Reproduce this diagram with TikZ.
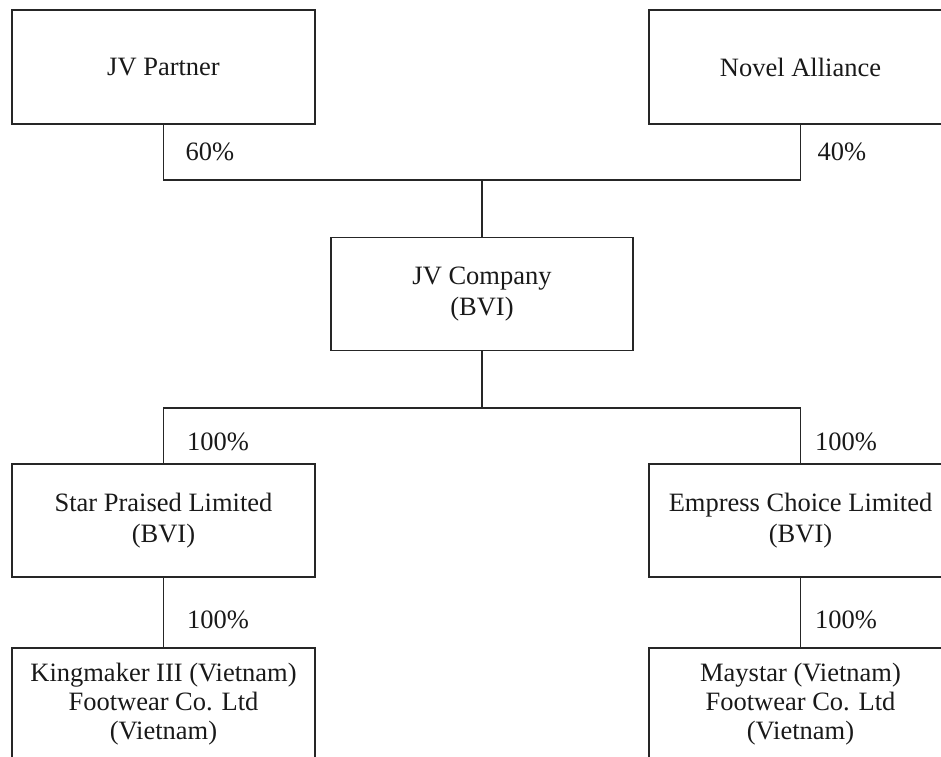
\documentclass[tikz,border=0pt]{standalone}
\usepackage{fontspec}
\setmainfont{Liberation Serif}
\begin{document}
\begin{tikzpicture}[x=1pt,y=-1pt,
  entity/.style={draw=black!85, line width=1.1pt, rectangle, minimum width=303pt, minimum height=113pt,
     align=center, inner sep=0pt, font=\fontsize{26.5}{31}\selectfont, text=black!90},
  tight/.style={font=\fontsize{26.5}{29}\selectfont},
  link/.style={draw=black!85, line width=1.1pt},
  pct/.style={font=\fontsize{26.5}{29}\selectfont, text=black!90, inner sep=0pt}]
\useasboundingbox (0,0) rectangle (941,756);
\clip (0,0) rectangle (941,756);
\node[entity, minimum height=114pt] (jvp) at (163.5,67) {JV Partner};
\node[entity, minimum height=114pt] (na) at (800.5,67) {Novel Alliance};
\node[entity, minimum width=302pt] (jvc) at (482,294) {JV Company\\(BVI)};
\node[entity] (sp) at (163.5,520.5) {Star Praised Limited\\(BVI)};
\node[entity] (ec) at (800.5,520.5) {Empress Choice Limited\\(BVI)};
\node[entity, tight] (km) at (163.5,704.5) {Kingmaker III (Vietnam)\\Footwear Co. Ltd\\(Vietnam)};
\node[entity, tight] (ms) at (800.5,704.5) {Maystar (Vietnam)\\Footwear Co. Ltd\\(Vietnam)};
\coordinate (top) at (482,180);
\coordinate (mid) at (482,408);
\draw[link] (jvp.south) |- (top) -| (na.south);
\draw[link] (top) -- (jvc.north);
\draw[link] (jvc.south) -- (mid);
\draw[link] (sp.north) |- (mid) -| (ec.north);
\draw[link] (sp.south) -- (km.north);
\draw[link] (ec.south) -- (ms.north);
\node[pct] (p60) at (210,152) {60\%};
\node[pct] (p40) at (842,152) {40\%};
\node[pct] (p1) at (218,442) {100\%};
\node[pct] (p2) at (846,442) {100\%};
\node[pct] (p3) at (218,620) {100\%};
\node[pct] (p4) at (846,620) {100\%};
\end{tikzpicture}
\end{document}
